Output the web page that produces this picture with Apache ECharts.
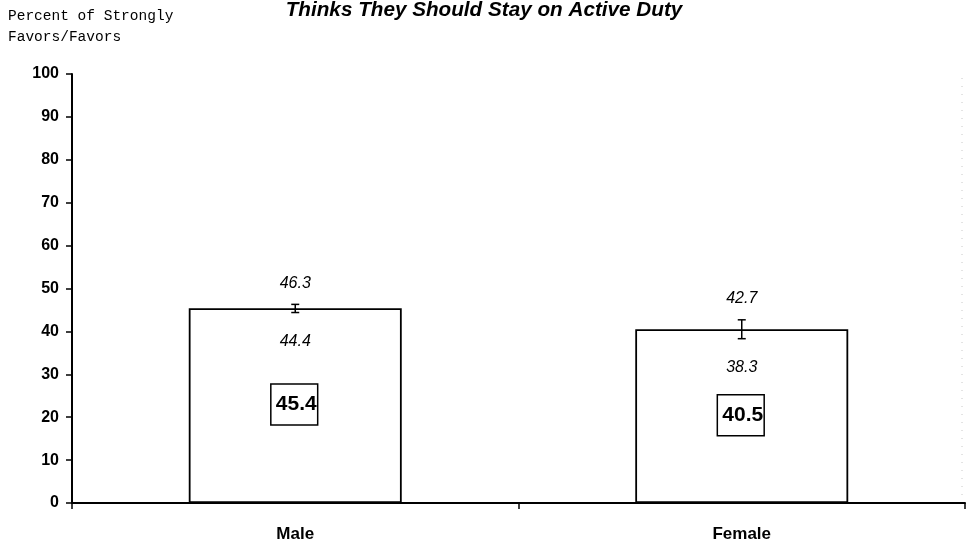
<!DOCTYPE html>
<html><head><meta charset="utf-8">
<script src="https://cdn.jsdelivr.net/npm/echarts@6/dist/echarts.min.js"></script>
<style>html,body{margin:0;padding:0;background:#fff}#c{width:969px;height:548px}</style>
</head><body><div id="c"></div>
<script>
const categories = ['Male', 'Female'];
const values = [45.4, 40.5];
const upper = [46.3, 42.7];
const lower = [44.4, 38.3];
const titleText = 'Thinks They Should Stay on Active Duty';
const yName = 'Percent of Strongly\nFavors/Favors';

const SANS = '"Liberation Sans", Arial, sans-serif';
const chart = echarts.init(document.getElementById('c'));
chart.setOption({
  animation: false,
  backgroundColor: '#fff',
  graphic: [{
    type: 'text', x: 484, y: 10,
    style: { text: titleText, font: 'italic bold 20.7px "Liberation Sans", Arial, sans-serif', fill: '#000', align: 'center', verticalAlign: 'middle' }
  }, {
    type: 'text', left: 8, top: 6,
    style: { text: yName, font: '14.5px "Liberation Mono", "Courier New", monospace', fill: '#000', lineHeight: 21 }
  }, {
    type: 'line', shape: { x1: 962, y1: 78, x2: 962, y2: 498 },
    style: { stroke: '#c8c8c8', lineWidth: 1, lineDash: [1, 7] }
  }],
  grid: { left: 72, right: 4, top: 74, bottom: 45, containLabel: false },
  xAxis: {
    type: 'category', data: categories,
    axisLine: { lineStyle: { color: '#000', width: 2 } },
    axisTick: { show: true, length: 6, lineStyle: { color: '#000', width: 1.5 } },
    axisLabel: { margin: 23, color: '#000', fontFamily: SANS, fontSize: 17, fontWeight: 'bold' }
  },
  yAxis: {
    type: 'value', min: 0, max: 100, interval: 10,
    splitLine: { show: false },
    axisLine: { show: true, lineStyle: { color: '#000', width: 2 } },
    axisTick: { show: true, length: 6, lineStyle: { color: '#000', width: 1.5 } },
    axisLabel: { margin: 13, color: '#000', fontFamily: SANS, fontSize: 16, fontWeight: 'bold' }
  },
  series: [{
    type: 'bar', data: values, barWidth: '47.7%',
    itemStyle: { color: '#fff', borderColor: '#000', borderWidth: 1.8 },
    label: {
      show: true, position: 'inside', color: '#000', fontFamily: SANS, fontSize: 21, fontWeight: 'bold',
      lineHeight: 21,
      borderColor: '#000', borderWidth: 1.5, padding: [15, 1, 5, 5], offset: [-1, -1]
    }
  }, {
    type: 'custom',
    data: categories.map((c, i) => [i, lower[i], upper[i]]),
    z: 10,
    renderItem: function (params, api) {
      const x = api.value(0);
      const lo = api.coord([x, api.value(1)]);
      const hi = api.coord([x, api.value(2)]);
      const cap = 4;
      const ls = { stroke: '#000', lineWidth: 1.5 };
      const tf = 'italic 16px "Liberation Sans", Arial, sans-serif';
      return {
        type: 'group',
        children: [
          { type: 'line', shape: { x1: hi[0], y1: hi[1], x2: lo[0], y2: lo[1] }, style: ls },
          { type: 'line', shape: { x1: hi[0] - cap, y1: hi[1], x2: hi[0] + cap, y2: hi[1] }, style: ls },
          { type: 'line', shape: { x1: lo[0] - cap, y1: lo[1], x2: lo[0] + cap, y2: lo[1] }, style: ls },
          { type: 'text', x: hi[0], y: hi[1] - 21, style: { text: api.value(2).toFixed(1), font: tf, fill: '#000', align: 'center', verticalAlign: 'middle' } },
          { type: 'text', x: lo[0], y: lo[1] + 29, style: { text: api.value(1).toFixed(1), font: tf, fill: '#000', align: 'center', verticalAlign: 'middle' } }
        ]
      };
    }
  }]
});
</script></body></html>
